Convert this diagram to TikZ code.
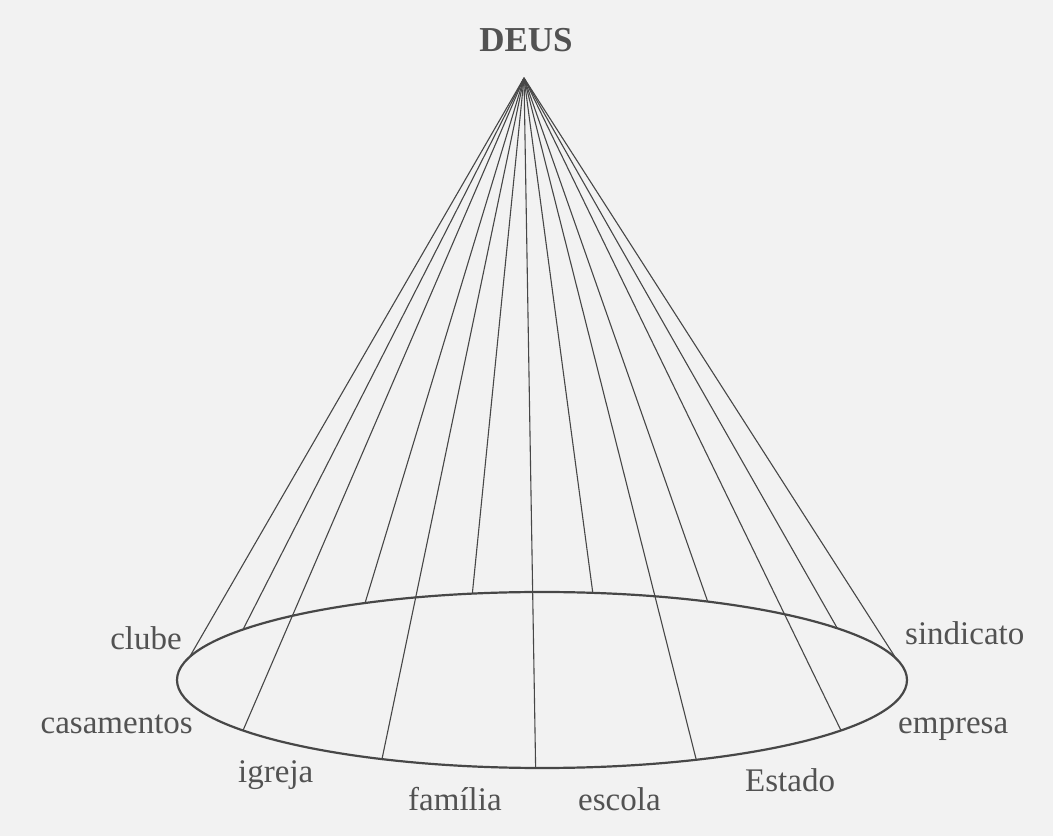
\documentclass[tikz,border=0pt]{standalone}
\usepackage{fontspec}
\setmainfont{Liberation Serif}
\begin{document}
\begin{tikzpicture}[x=1pt, y=1pt, font=\fontsize{33}{40}\selectfont,
		ray/.style={draw=black!72, line width=1.1pt},
		rim/.style={draw=black!72, line width=2.2pt},
		tag/.style={text=black!68, inner sep=0pt}]
		\useasboundingbox[fill=black!5] (0, 0) rectangle (1053, 836);
		% Apex and centre of the base.
		\coordinate (apex) at (524, 758);
		\coordinate (base) at (542, 156);
		\node[tag, anchor=base, font=\fontsize{35}{40}\selectfont\bfseries] (deus) at (526, 784) {DEUS};
		% Rays to the back half of the base.
		\foreach \t [count=\i] in {165, 145, 119, 101, 82, 63, 36, 14} {
			\coordinate (back\i) at ([shift={(base)}] \t:365pt and 88pt);
			\draw[ray] (apex) -- (back\i);
		}
		% Base ellipse.
		\draw[rim] (base) ellipse [x radius=365pt, y radius=88pt];
		% Rays to the front half of the base.
		\foreach \t [count=\i] in {215, 244, 269, 295, 325} {
			\coordinate (front\i) at ([shift={(base)}] \t:365pt and 88pt);
			\draw[ray] (apex) -- (front\i);
		}
		% Labels round the base.
		\node[tag, anchor=base east] (clube) at (182, 186) {clube};
		\node[tag, anchor=base east] (casamentos) at (193, 102) {casamentos};
		\node[tag, anchor=base west] (igreja) at (238, 53) {igreja};
		\node[tag, anchor=base west] (familia) at (408, 26) {família};
		\node[tag, anchor=base west] (escola) at (578, 26) {escola};
		\node[tag, anchor=base west] (estado) at (745, 44) {Estado};
		\node[tag, anchor=base west] (empresa) at (898, 102) {empresa};
		\node[tag, anchor=base west] (sindicato) at (905, 191) {sindicato};
	\end{tikzpicture}
\end{document}
